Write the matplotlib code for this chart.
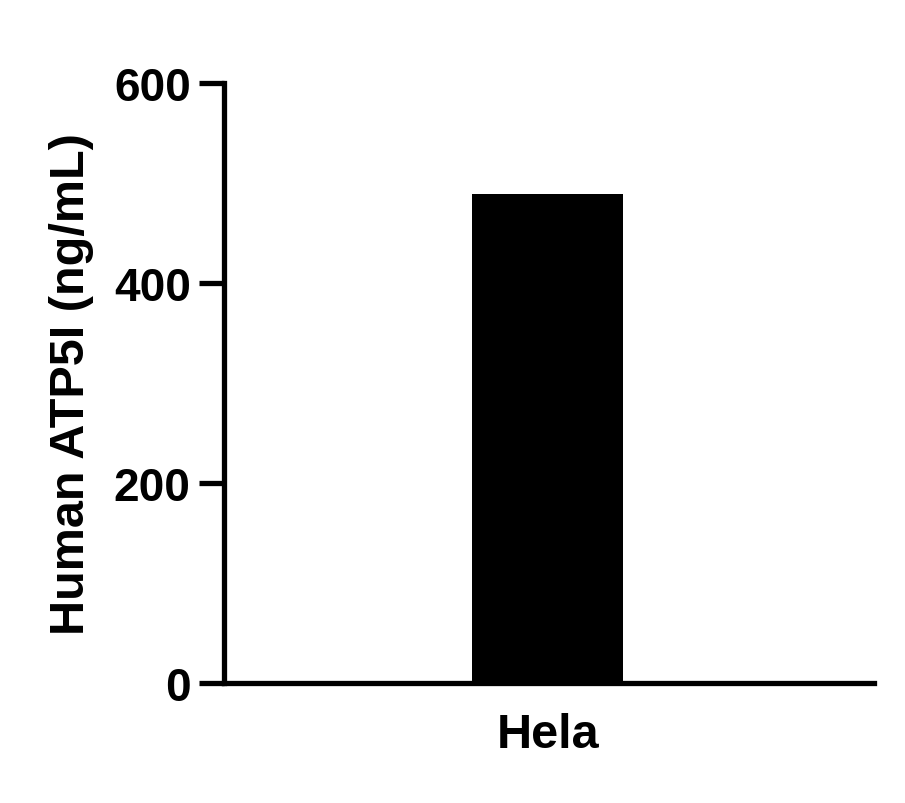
import matplotlib
matplotlib.use("Agg")
import matplotlib.pyplot as plt

categories = ["Hela"]
values = [489]
yticks = [0, 200, 400, 600]

plt.rcParams['font.family'] = ['Liberation Sans', 'DejaVu Sans']
plt.rcParams['font.weight'] = 'bold'

fig = plt.figure(figsize=(9.05, 8.04), dpi=100)
ax = fig.add_axes([0.2475, 0.149, 0.718, 0.7463])

ax.bar(range(len(categories)), values, width=0.232, color='black', zorder=1)
ax.set_xlim(-0.498, 0.502)
ax.set_ylim(0, 600)
ax.set_yticks(yticks)
ax.set_xticks(range(len(categories)))
ax.set_xticklabels(categories)

for s in ['top', 'right']:
    ax.spines[s].set_visible(False)
for s in ['left', 'bottom']:
    ax.spines[s].set_linewidth(3.8)
    ax.spines[s].set_capstyle('projecting')

ax.tick_params(axis='y', length=18, width=3.8, labelsize=33, pad=6)
ax.tick_params(axis='x', length=0, labelsize=35, pad=21)
ax.set_ylabel("Human ATP5I (ng/mL)", fontsize=35, fontweight='bold', labelpad=14)

fig.savefig("out.png", dpi=100)
